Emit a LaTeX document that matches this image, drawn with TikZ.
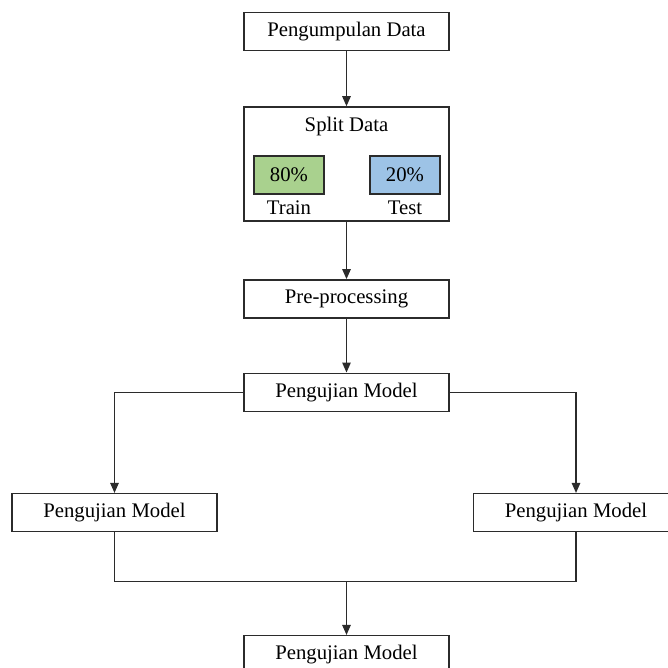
\documentclass[tikz,border=0pt]{standalone}
\usepackage{fontspec}
\setmainfont{Liberation Serif}
\usetikzlibrary{arrows.meta,positioning}
\definecolor{TrainGreen}{HTML}{A9D18E}
\definecolor{TestBlue}{HTML}{9DC3E6}
\definecolor{FlowLine}{HTML}{2B2B2B}

\begin{document}
\begin{tikzpicture}[
    node distance=1.1cm,
    box/.style={draw=FlowLine,line width=0.8pt,fill=white,
                minimum height=0.76cm,minimum width=4.1cm,align=center,
                font=\fontsize{11.8}{14}\selectfont},
    part/.style={draw=FlowLine,line width=0.7pt,minimum height=0.76cm,minimum width=1.4cm,
                 font=\fontsize{11.8}{14}\selectfont},
    parttext/.style={inner sep=1pt,font=\fontsize{11.8}{14}\selectfont},
    link/.style={line width=0.7pt,color=FlowLine},
    arrow/.style={link,-{Triangle[length=2mm,width=1.7mm]}}
  ]
    \clip (0,0) rectangle (13.36,-13.36);
    \node[box] (collect) at (6.93,-0.63) {Pengumpulan Data};
    \node[box,minimum height=2.28cm,below=of collect] (split) {};
    \node[parttext] (splitlabel) at ([yshift=-0.4cm]split.north) {Split Data};
    \node[part,fill=TrainGreen] (train) at ([xshift=-1.15cm,yshift=-0.22cm]split.center) {80\%};
    \node[part,fill=TestBlue] (test) at ([xshift=1.17cm,yshift=-0.22cm]split.center) {20\%};
    \node[parttext,below=0.08cm of train] (trainlabel) {Train};
    \node[parttext,below=0.08cm of test] (testlabel) {Test};
    \node[box,below=1.15cm of split] (prep) {Pre-processing};
    \node[box,below=1.08cm of prep] (model) {Pengujian Model};
    \node[box,below=1.62cm of model,xshift=-4.64cm] (modelleft) {Pengujian Model};
    \node[box,below=1.62cm of model,xshift=4.59cm] (modelright) {Pengujian Model};
    \node[box,below=4.46cm of model] (final) {Pengujian Model};
    \draw[arrow] (collect) -- (split);
    \draw[arrow] (split) -- (prep);
    \draw[arrow] (prep) -- (model);
    \draw[arrow] (model.west) -| (modelleft.north);
    \draw[arrow] (model.east) -| (modelright.north);
    \draw[link] (modelleft.south) -- ++(0,-0.98) coordinate (join) -| (modelright.south);
    \draw[arrow] (join -| final.north) -- (final.north);
  \end{tikzpicture}
\end{document}
